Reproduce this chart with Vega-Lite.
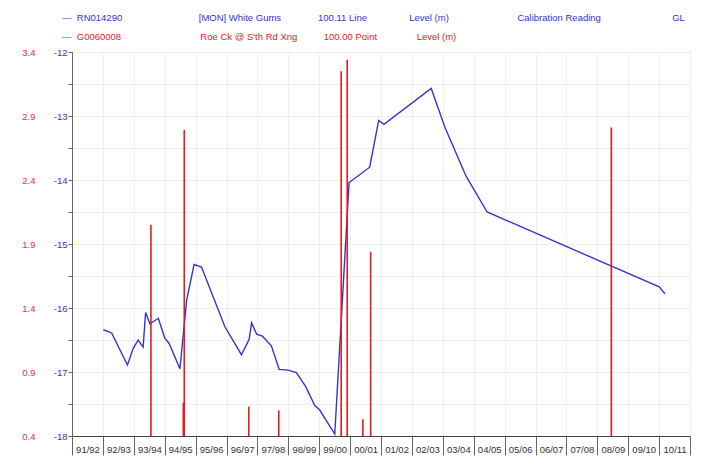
{
  "$schema": "https://vega.github.io/schema/vega-lite/v6.json",
  "width": 618,
  "height": 384,
  "autosize": {"type": "none"},
  "padding": {"left": 72, "top": 52, "right": 24, "bottom": 25},
  "background": "white",
  "config": {"view": {"stroke": "#555555", "strokeWidth": 1}, "font": "Liberation Sans"},
  "title": {
    "text": "\u2014\u00a0\u00a0RN014290\u00a0\u00a0\u00a0\u00a0\u00a0\u00a0\u00a0\u00a0\u00a0\u00a0\u00a0\u00a0\u00a0\u00a0\u00a0\u00a0\u00a0\u00a0\u00a0\u00a0\u00a0\u00a0\u00a0\u00a0\u00a0\u00a0\u00a0\u00a0\u00a0[MON] White Gums\u00a0\u00a0\u00a0\u00a0\u00a0\u00a0\u00a0\u00a0\u00a0\u00a0\u00a0\u00a0\u00a0\u00a0100.11 Line\u00a0\u00a0\u00a0\u00a0\u00a0\u00a0\u00a0\u00a0\u00a0\u00a0\u00a0\u00a0\u00a0\u00a0\u00a0\u00a0Level (m)\u00a0\u00a0\u00a0\u00a0\u00a0\u00a0\u00a0\u00a0\u00a0\u00a0\u00a0\u00a0\u00a0\u00a0\u00a0\u00a0\u00a0\u00a0\u00a0\u00a0\u00a0\u00a0\u00a0\u00a0\u00a0\u00a0Calibration Reading\u00a0\u00a0\u00a0\u00a0\u00a0\u00a0\u00a0\u00a0\u00a0\u00a0\u00a0\u00a0\u00a0\u00a0\u00a0\u00a0\u00a0\u00a0\u00a0\u00a0\u00a0\u00a0\u00a0\u00a0\u00a0\u00a0\u00a0GL",
    "subtitle": "\u2014\u00a0\u00a0G0060008\u00a0\u00a0\u00a0\u00a0\u00a0\u00a0\u00a0\u00a0\u00a0\u00a0\u00a0\u00a0\u00a0\u00a0\u00a0\u00a0\u00a0\u00a0\u00a0\u00a0\u00a0\u00a0\u00a0\u00a0\u00a0\u00a0\u00a0\u00a0\u00a0\u00a0Roe Ck @ S'th Rd Xng\u00a0\u00a0\u00a0\u00a0\u00a0\u00a0\u00a0\u00a0\u00a0\u00a0100.00 Point\u00a0\u00a0\u00a0\u00a0\u00a0\u00a0\u00a0\u00a0\u00a0\u00a0\u00a0\u00a0\u00a0\u00a0\u00a0Level (m)",
    "anchor": "start",
    "frame": "group",
    "dx": -10,
    "offset": 6,
    "font": "Liberation Sans",
    "fontSize": 9.5,
    "fontWeight": "normal",
    "color": "#3333cc",
    "subtitleFont": "Liberation Sans",
    "subtitleFontSize": 9.5,
    "subtitleColor": "#dd2222",
    "subtitlePadding": 9
  },
  "layer": [
    {
      "data": {"values": [
        {"date": "1992-07-05", "level": -16.34},
        {"date": "1992-10-12", "level": -16.39},
        {"date": "1993-04-16", "level": -16.89},
        {"date": "1993-06-24", "level": -16.63},
        {"date": "1993-08-21", "level": -16.50},
        {"date": "1993-10-19", "level": -16.61},
        {"date": "1993-11-17", "level": -16.07},
        {"date": "1994-01-08", "level": -16.25},
        {"date": "1994-04-16", "level": -16.16},
        {"date": "1994-07-02", "level": -16.47},
        {"date": "1994-08-21", "level": -16.55},
        {"date": "1994-12-28", "level": -16.95},
        {"date": "1995-03-17", "level": -15.88},
        {"date": "1995-06-13", "level": -15.32},
        {"date": "1995-09-09", "level": -15.36},
        {"date": "1996-06-10", "level": -16.29},
        {"date": "1996-12-24", "level": -16.73},
        {"date": "1997-03-25", "level": -16.49},
        {"date": "1997-04-23", "level": -16.23},
        {"date": "1997-06-21", "level": -16.41},
        {"date": "1997-08-29", "level": -16.44},
        {"date": "1997-12-13", "level": -16.59},
        {"date": "1998-03-15", "level": -16.96},
        {"date": "1998-06-28", "level": -16.97},
        {"date": "1998-10-05", "level": -17.01},
        {"date": "1999-01-23", "level": -17.23},
        {"date": "1999-05-08", "level": -17.52},
        {"date": "1999-07-05", "level": -17.59},
        {"date": "2000-01-01", "level": -17.97},
        {"date": "2000-06-18", "level": -14.04},
        {"date": "2001-02-17", "level": -13.80},
        {"date": "2001-06-03", "level": -13.07},
        {"date": "2001-08-04", "level": -13.13},
        {"date": "2003-02-14", "level": -12.57},
        {"date": "2003-07-27", "level": -13.18},
        {"date": "2004-04-01", "level": -13.94},
        {"date": "2004-12-06", "level": -14.50},
        {"date": "2010-07-02", "level": -15.67},
        {"date": "2010-09-09", "level": -15.78}
      ]},
      "mark": {"type": "line", "color": "#3535cc", "strokeWidth": 1.4},
      "encoding": {
        "x": {
          "field": "date", "type": "temporal", "title": null,
          "scale": {"domain": [{"year": 1991, "month": 7, "date": 1}, {"year": 2011, "month": 7, "date": 1}]},
          "axis": {
            "values": [
              {"year": 1991, "month": 7, "date": 1}, {"year": 1992, "month": 7, "date": 1}, {"year": 1993, "month": 7, "date": 1},
              {"year": 1994, "month": 7, "date": 1}, {"year": 1995, "month": 7, "date": 1}, {"year": 1996, "month": 7, "date": 1},
              {"year": 1997, "month": 7, "date": 1}, {"year": 1998, "month": 7, "date": 1}, {"year": 1999, "month": 7, "date": 1},
              {"year": 2000, "month": 7, "date": 1}, {"year": 2001, "month": 7, "date": 1}, {"year": 2002, "month": 7, "date": 1},
              {"year": 2003, "month": 7, "date": 1}, {"year": 2004, "month": 7, "date": 1}, {"year": 2005, "month": 7, "date": 1},
              {"year": 2006, "month": 7, "date": 1}, {"year": 2007, "month": 7, "date": 1}, {"year": 2008, "month": 7, "date": 1},
              {"year": 2009, "month": 7, "date": 1}, {"year": 2010, "month": 7, "date": 1}, {"year": 2011, "month": 7, "date": 1}
            ],
            "tickCount": 40,
            "labelExpr": "year(datum.value) >= 2011 ? '' : timeFormat(datum.value, '%y') + '/' + timeFormat(datetime(year(datum.value) + 1, 6, 1), '%y')",
            "labelOffset": 15.5,
            "labelAlign": "center",
            "labelBaseline": "middle",
            "labelPadding": -6,
            "labelFlush": false,
            "labelOverlap": false,
            "labelFont": "Liberation Sans",
            "labelFontSize": 9.5,
            "labelColor": "#333333",
            "tickSize": 19,
            "tickColor": "#666666",
            "domainColor": "#444444",
            "grid": true,
            "gridColor": "#efefef"
          }
        },
        "y": {
          "field": "level", "type": "quantitative", "title": null,
          "scale": {"domain": [-18, -12], "nice": false, "zero": false},
          "axis": {
            "orient": "left",
            "values": [-18, -17.5, -17, -16.5, -16, -15.5, -15, -14.5, -14, -13.5, -13, -12.5, -12],
            "tickCount": 40,
            "labelExpr": "datum.value % 1 === 0 ? '' + datum.value : ''",
            "labelFont": "Liberation Sans",
            "labelFontSize": 9.5,
            "labelColor": "#3333cc",
            "labelPadding": 1,
            "labelOverlap": false,
            "tickSize": 4,
            "tickColor": "#666666",
            "domainColor": "#666666",
            "grid": true,
            "gridColor": "#efefef"
          }
        }
      }
    },
    {
      "data": {"values": [
        {"date": "1994-01-19", "level": 2.05},
        {"date": "1995-02-06", "level": 0.66},
        {"date": "1995-02-17", "level": 2.79},
        {"date": "1997-03-21", "level": 0.63},
        {"date": "1998-03-10", "level": 0.60},
        {"date": "2000-03-17", "level": 3.25},
        {"date": "2000-05-27", "level": 3.34},
        {"date": "2000-11-28", "level": 0.53},
        {"date": "2001-02-28", "level": 1.84},
        {"date": "2008-12-13", "level": 2.81}
      ]},
      "mark": {"type": "rule", "color": "#e31b1b", "strokeWidth": 1.6},
      "encoding": {
        "x": {"field": "date", "type": "temporal"},
        "y": {
          "field": "level", "type": "quantitative", "title": null,
          "scale": {"domain": [0.4, 3.4], "nice": false, "zero": false},
          "axis": {
            "orient": "left",
            "offset": 35,
            "values": [0.4, 0.9, 1.4, 1.9, 2.4, 2.9, 3.4],
            "tickCount": 40,
            "format": ".1f",
            "domain": false,
            "ticks": false,
            "tickSize": 0,
            "grid": false,
            "labelPadding": 2,
            "labelOverlap": false,
            "labelFont": "Liberation Sans",
            "labelFontSize": 9.5,
            "labelColor": "#dd3333"
          }
        },
        "y2": {"datum": 0.4}
      }
    }
  ],
  "resolve": {"scale": {"y": "independent"}}
}
